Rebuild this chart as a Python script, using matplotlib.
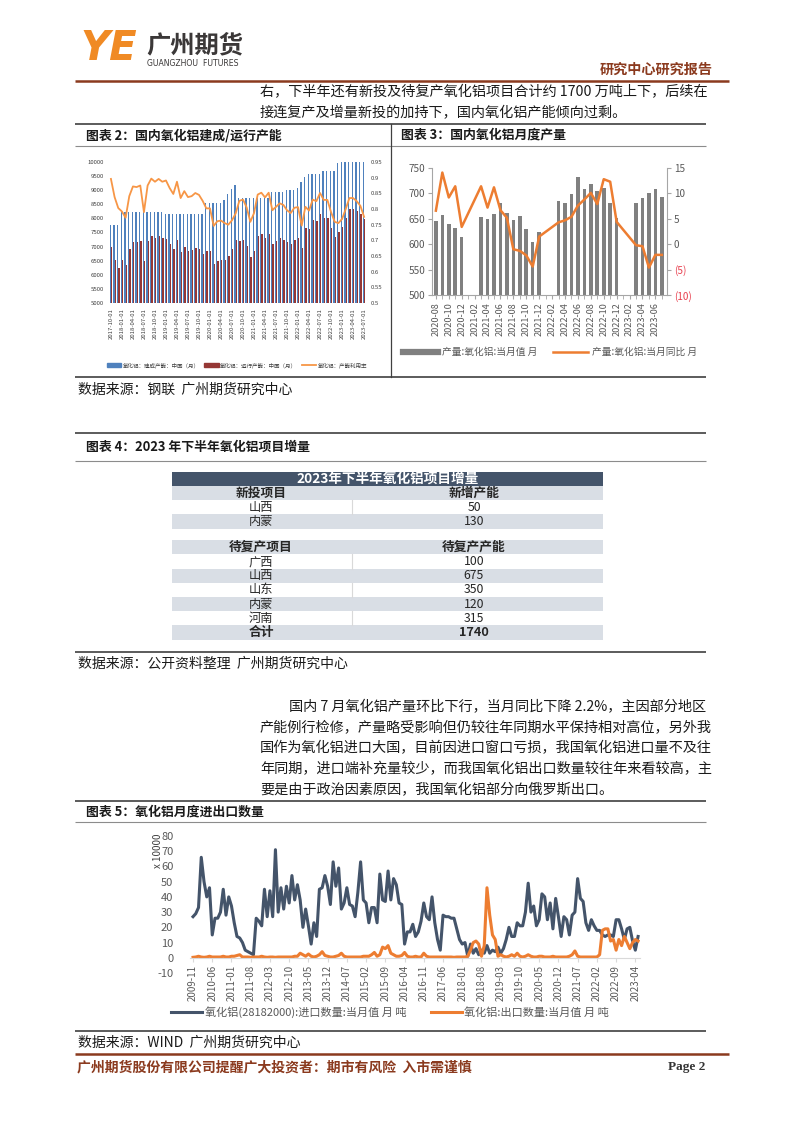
import numpy as np
import pandas as pd
import matplotlib
matplotlib.use("Agg")
import matplotlib.pyplot as plt
from matplotlib.patches import Rectangle, Patch
from matplotlib.lines import Line2D
from matplotlib.ticker import FuncFormatter

plt.rcParams['font.family'] = ['Noto Sans CJK SC', 'DejaVu Sans']
plt.rcParams['axes.unicode_minus'] = False

W, H = 802, 1133

# chart 2: built / running capacity (monthly from 2017-10), utilisation rate
cap_start = "2017-10-01"
built_cap = [7780, 7780, 7780] + [8230] * 12 + [8170] * 11 + [8540] * 5 + \
            [8650, 8870, 9060, 9200] + [8720] * 9 + [8920] * 4 + [9020] * 3 + \
            [9080, 9300, 9480] + [9580] * 4 + [9680] * 4 + [9960] + [10000] * 7
run_cap = [6970, 6520, 6250, 6520, 6350, 6920, 7180, 7160, 7200, 6500,
           7200, 7380, 7300, 7370, 7300, 7280, 7080, 6930, 7250, 6820,
           7000, 6850, 6870, 6950, 6900, 6750, 6850, 6850, 6370, 6500,
           6520, 6530, 6650, 6920, 7230, 7200, 7240, 7020, 6620, 6860,
           7380, 7430, 7300, 7430, 7100, 7200, 7300, 7250, 7180, 7100,
           7250, 7320, 6950, 7650, 7620, 7950, 7900, 8150, 8020, 8020,
           7650, 7350, 7520, 7680, 8000, 8350, 8350, 8250, 8170, 7970]
util_rate = [0.896, 0.838, 0.803, 0.792, 0.772, 0.841, 0.872, 0.870, 0.875, 0.790,
             0.875, 0.897, 0.887, 0.896, 0.887, 0.891, 0.867, 0.848, 0.887, 0.835,
             0.857, 0.838, 0.841, 0.851, 0.845, 0.826, 0.802, 0.802, 0.746, 0.761,
             0.763, 0.755, 0.750, 0.764, 0.786, 0.826, 0.830, 0.805, 0.759, 0.787,
             0.846, 0.852, 0.837, 0.852, 0.796, 0.807, 0.818, 0.813, 0.796, 0.787,
             0.804, 0.806, 0.747, 0.807, 0.795, 0.830, 0.825, 0.851, 0.829, 0.829,
             0.790, 0.759, 0.755, 0.768, 0.800, 0.835, 0.835, 0.825, 0.810, 0.775]

# chart 3: monthly alumina output (万吨) and yoy (%)
prod_start = "2020-08-01"
nan = np.nan
prod_value = [646, 657, 639, 631, 614, nan, nan, 654, 649, 660,
              681, 662, 647, 655, 630, 605, 625, nan, nan, 686,
              682, 699, 732, 709, 719, 705, 711, 681, 652, nan,
              nan, 681, 690, 701, 709, 693]
prod_yoy = [6.6, 14.1, 9.2, 11.4, 3.4, nan, nan, 11.4, 7.2, 11.2,
            6.7, 5.2, -1.0, -1.3, -2.2, -4.4, 1.5, nan, nan, 4.3,
            4.7, 5.4, 7.6, 8.8, 10.1, 7.9, 12.8, 12.3, 4.4, nan,
            nan, -0.2, -0.4, -4.6, -2.1, -2.1]

# chart 4: table of H2 2023 projects (万吨)
new_regions = ["山西", "内蒙"]
new_cap = [50, 130]
resume_regions = ["广西", "山西", "山东", "内蒙", "河南"]
resume_cap = [100, 675, 350, 120, 315]
total_cap = 1740

# chart 5: monthly import / export (万吨) from 2009-11
trade_start = "2009-11-01"
import_qty = [27, 29, 33, 66, 50, 40, 46, 15, 26, 26,
              30, 45, 28, 40, 34, 23, 14, 13, 10, 5,
              4, 3, 2, 26, 24, 21, 45, 27, 44, 27,
              71, 30, 46, 32, 47, 36, 54, 38, 48, 38,
              20, 32, 21, 9, 23, 14, 45, 46, 54, 47,
              35, 63, 47, 59, 32, 36, 46, 35, 34, 27,
              43, 63, 38, 36, 23, 33, 33, 23, 55, 38,
              37, 57, 38, 52, 48, 36, 35, 9, 17, 17,
              22, 14, 17, 24, 36, 27, 25, 40, 23, 12,
              5, 28, 27, 27, 26, 26, 19, 12, 9, 10,
              1, 9, 3, 6, 2, 5, 3, 8, 3, 5,
              4, 7, 3, 6, 12, 20, 14, 14, 23, 21,
              21, 30, 49, 30, 34, 21, 25, 42, 40, 25,
              36, 19, 39, 27, 14, 27, 25, 15, 28, 30,
              52, 39, 37, 23, 18, 25, 21, 18, 18, 15,
              14, 15, 15, 14, 25, 25, 19, 12, 19, 20,
              11, 5, 14]
export_qty = [0.3, 0.5, 1, 0.5, 0.3, 0.5, 1, 0.5, 0.5, 0.5,
              0.5, 1, 0.5, 0.5, 1, 1, 1.5, 2, 0.5, 0.5,
              0.5, 0.3, 0.5, 0.5, 0.5, 1, 0.5, 0.3, 0.5, 0.5,
              0.3, 0.5, 0.5, 0.5, 0.5, 0.5, 0.5, 1, 1, 3,
              2, 1, 2.5, 1, 0.5, 1, 2, 4, 1.5, 1,
              0.5, 0.5, 1, 1.5, 3, 1, 0.5, 0.5, 0.5, 0.5,
              0.5, 0.5, 1, 1, 1, 2, 3.5, 1, 2, 7,
              6, 8, 3, 2, 1, 1, 1.5, 3.5, 1, 0.5,
              0.5, 1, 0.5, 0.5, 3, 1, 0.5, 0.5, 0.5, 0.5,
              0.5, 0.5, 0.5, 0.5, 0.5, 0.3, 0.5, 0.5, 0.5, 0.5,
              1, 5, 10, 11, 9, 1, 8, 46, 28, 15,
              12, 1, 2, 1, 0.5, 1, 2, 1, 3, 1,
              0.5, 1, 2, 1, 0.5, 0.5, 1, 1, 0.5, 0.5,
              0.5, 1, 0.5, 0.5, 0.5, 0.5, 0.5, 1, 2, 4.5,
              1, 0.5, 0.5, 0.5, 0.5, 0.5, 0.5, 0.5, 2, 18,
              19, 19, 11, 12, 5, 12, 8, 14, 10, 6,
              10, 12, 11]

para1 = ["右，下半年还有新投及待复产氧化铝项目合计约 1700 万吨上下，后续在",
         "接连复产及增量新投的加持下，国内氧化铝产能倾向过剩。"]
para2 = ["国内 7 月氧化铝产量环比下行，当月同比下降 2.2%，主因部分地区",
         "产能例行检修，产量略受影响但仍较往年同期水平保持相对高位，另外我",
         "国作为氧化铝进口大国，目前因进口窗口亏损，我国氧化铝进口量不及往",
         "年同期，进口端补充量较少，而我国氧化铝出口数量较往年来看较高，主",
         "要是由于政治因素原因，我国氧化铝部分向俄罗斯出口。"]

BROWN = "#8B3A1E"
TXT = "#1A1A1A"


def rect(x0, y0, x1, y1):
    # pixel box (origin top-left) -> figure fraction
    return [x0 / W, 1 - y1 / H, (x1 - x0) / W, (y1 - y0) / H]


fig = plt.figure(figsize=(W / 100, H / 100), dpi=100)
page = fig.add_axes([0, 0, 1, 1], zorder=0)
page.set_xlim(0, W)
page.set_ylim(H, 0)
page.axis("off")


def hline(y, x0=75, x1=706, color="#404040", lw=1.0):
    page.plot([x0, x1], [y, y], color=color, lw=lw, solid_capstyle="butt")


# header
page.text(80, 49, "YE", fontsize=29, fontweight="bold", style="italic",
          color="#F08A24", family="DejaVu Sans", va="center", ha="left")
page.text(146, 45, "广州期货", fontsize=17.5, fontweight="bold", color="#3B3838",
          va="center", ha="left")
page.text(147, 63, "GUANGZHOU  FUTURES", fontsize=5.6, color="#3B3838",
          va="center", ha="left", family="DejaVu Sans")
page.text(713, 70, "研究中心研究报告", fontsize=10.2, color=BROWN, fontweight="bold",
          va="center", ha="right")
hline(80.5, 75, 729, color=BROWN, lw=1.8)
for k, line in enumerate(para1):
    page.text(260, 92 + 21 * k, line, fontsize=10.2, color=TXT, va="center")

# chart 2/3 frame
hline(124, lw=1.2)
hline(146, color="#8C8C8C", lw=0.8)
hline(377, lw=1.2)
page.plot([391, 391], [124, 377], color="#404040", lw=0.9)
page.text(86, 135, "图表 2：国内氧化铝建成/运行产能", fontsize=9.3, fontweight="bold",
          color=TXT, va="center")
page.text(401, 135, "图表 3：国内氧化铝月度产量", fontsize=9.3, fontweight="bold",
          color=TXT, va="center")
page.text(78, 390, "数据来源：钢联  广州期货研究中心", fontsize=10, color=TXT, va="center")

# chart 2
ax2 = fig.add_axes(rect(108, 162, 367, 303), zorder=2)
ax2.patch.set_alpha(0)
x2 = np.arange(len(built_cap))
months2 = pd.date_range(cap_start, periods=len(built_cap), freq="MS")
ax2.bar(x2 - 0.19, built_cap, width=0.36, color="#4F81BD", linewidth=0)
ax2.bar(x2 + 0.19, run_cap, width=0.40, color="#953735", linewidth=0)
ax2.set_xlim(-0.8, len(x2) - 0.2)
ax2.set_ylim(5000, 10000)
ax2.set_yticks(range(5000, 10001, 500))
ax2.set_xticks(x2[::3])
ax2.set_xticklabels([d.strftime("%Y-%m-%d") for d in months2[::3]], rotation=90,
                    fontsize=4.3, color="#404040")
ax2.tick_params(axis="x", length=0, pad=4)
ax2.tick_params(axis="y", length=0, pad=3, labelsize=4.3, labelcolor="#404040")
ax2r = ax2.twinx()
ax2r.plot(x2, util_rate, color="#F79646", lw=1.3)
ax2r.set_ylim(0.5, 0.95)
ax2r.set_yticks(np.arange(0.5, 0.951, 0.05))
ax2r.yaxis.set_major_formatter(FuncFormatter(lambda v, p: f"{round(v, 2):g}"))
ax2r.tick_params(axis="y", length=0, pad=3, labelsize=4.3, labelcolor="#404040")
for a in (ax2, ax2r):
    for s in a.spines.values():
        s.set_visible(False)
h2 = [Patch(color="#4F81BD"), Patch(color="#953735"),
      Line2D([], [], color="#F79646", lw=1.3)]
l2 = ["氧化铝：建成产能：中国（月）", "氧化铝：运行产能：中国（月）", "氧化铝：产能利用率"]
fig.legend(h2, l2, loc="center", bbox_to_anchor=(237 / W, 1 - 365 / H), ncol=3,
           frameon=False, fontsize=4, handlelength=2.6, handleheight=0.55,
           columnspacing=0.8, handletextpad=0.3, labelcolor="#404040")

# chart 3
GRID = "#A6A6A6"
ax3 = fig.add_axes(rect(432, 168, 667, 295), zorder=2)
ax3.patch.set_alpha(0)
months3 = pd.date_range(prod_start, periods=len(prod_value), freq="MS")
x3 = np.arange(len(months3))
ax3.bar(x3, np.array(prod_value, float), width=0.55, color="#808080", linewidth=0)
ax3.set_xlim(-0.6, len(x3) - 0.2)
ax3.set_ylim(500, 750)
ax3.set_yticks(range(500, 751, 50))
ax3.set_xticks(x3[::2])
ax3.set_xticks(x3, minor=True)
ax3.set_xticklabels([d.strftime("%Y-%m") for d in months3[::2]], rotation=90,
                    fontsize=6.6, color="#595959")
ax3.tick_params(axis="x", which="both", length=3, color=GRID, pad=2)
ax3.tick_params(axis="y", length=3, color=GRID, labelsize=7.2, labelcolor="#595959", pad=2)
yoy = np.array(prod_yoy, float)
ok = ~np.isnan(yoy)
ax3r = ax3.twinx()
ax3r.plot(x3[ok], yoy[ok], color="#ED7D31", lw=1.8)
ax3r.set_ylim(-10, 15)
ax3r.set_yticks(range(-10, 16, 5))
ax3r.yaxis.set_major_formatter(FuncFormatter(
    lambda v, p: f"({abs(v):g})" if v < 0 else f"{v:g}"))
ax3r.tick_params(axis="y", length=3, color=GRID, labelsize=7.2, labelcolor="#595959", pad=2)
for t, v in zip(ax3r.get_yticklabels(), range(-10, 16, 5)):
    if v < 0:
        t.set_color("#E8404F")
for s in ("top", "right"):
    ax3.spines[s].set_visible(False)
for s in ("left", "bottom"):
    ax3.spines[s].set_color(GRID)
    ax3.spines[s].set_linewidth(0.8)
for s in ("top", "left", "bottom"):
    ax3r.spines[s].set_visible(False)
ax3r.spines["right"].set_color(GRID)
ax3r.spines["right"].set_linewidth(0.8)
h3 = [Line2D([], [], color="#808080", lw=4.5), Line2D([], [], color="#ED7D31", lw=1.8)]
l3 = ["产量:氧化铝:当月值 月", "产量:氧化铝:当月同比 月"]
fig.legend(h3, l3, loc="center", bbox_to_anchor=(550 / W, 1 - 352 / H), ncol=2,
           frameon=False, fontsize=7, handlelength=3.6, columnspacing=1.6,
           handletextpad=0.4, labelcolor="#595959")

# chart 4 table
hline(433, lw=1.2)
hline(461, color="#8C8C8C", lw=0.8)
hline(652, lw=1.2)
page.text(86, 447, "图表 4：2023 年下半年氧化铝项目增量", fontsize=9.3,
          fontweight="bold", color=TXT, va="center")
TX0, TX1, TDIV = 172, 603, 352
LC, RC = 261, 474
ROW_BG = "#D9DEE5"
rows = [("2023年下半年氧化铝项目增量", None, "title", 14.2),
        ("新投项目", "新增产能", "head", 14.2)]
rows += [(r, str(v), "cell", 14.2) for r, v in zip(new_regions, new_cap)]
rows += [("", "", "blank", 11.7), ("待复产项目", "待复产产能", "head", 14.2)]
rows += [(r, str(v), "cell", 14.2) for r, v in zip(resume_regions, resume_cap)]
rows += [("合计", str(total_cap), "head", 14.2)]
y = 471.7
shade = True
for left, right, kind, rh in rows:
    if kind == "title":
        page.add_patch(Rectangle((TX0, y), TX1 - TX0, rh, color="#44546A", lw=0))
        page.text((TX0 + TX1) / 2, y + rh / 2, left, color="white", fontsize=9.8,
                  fontweight="bold", ha="center", va="center")
    elif kind == "blank":
        shade = True
    else:
        if shade:
            page.add_patch(Rectangle((TX0, y), TX1 - TX0, rh, color=ROW_BG, lw=0))
        else:
            page.plot([TDIV, TDIV], [y, y + rh], color="#D9D9D9", lw=0.8)
        fw = "bold" if kind == "head" else "normal"
        fs = 9.2 if kind == "head" else 8.8
        page.text(LC, y + rh / 2, left, fontsize=fs, fontweight=fw, color="#262626",
                  ha="center", va="center")
        page.text(RC, y + rh / 2, right, fontsize=fs, fontweight=fw, color="#262626",
                  ha="center", va="center")
        shade = not shade
    y += rh
page.text(78, 664, "数据来源：公开资料整理  广州期货研究中心", fontsize=10, color=TXT,
          va="center")

# paragraph 2
for k, line in enumerate(para2):
    page.text(289 if k == 0 else 260, 707 + 20.8 * k, line, fontsize=10.2, color=TXT,
              va="center")

# chart 5
hline(801, lw=1.2)
hline(822, color="#8C8C8C", lw=0.8)
hline(1031, lw=1.2)
page.text(86, 811.5, "图表 5：氧化铝月度进出口数量", fontsize=9.3, fontweight="bold",
          color=TXT, va="center")
ax5 = fig.add_axes(rect(190, 836, 640, 973), zorder=2)
ax5.patch.set_alpha(0)
for s in ("left", "top", "right"):
    ax5.spines[s].set_visible(False)
ax5.spines["bottom"].set_position(("data", 0))
ax5.spines["bottom"].set_color("#D9D9D9")
x5 = np.arange(len(import_qty))
months5 = pd.date_range(trade_start, periods=len(import_qty), freq="MS")
ax5.plot(x5, import_qty, color="#44546A", lw=2.2)
ax5.plot(x5, export_qty, color="#ED7D31", lw=2.2)
ax5.set_xlim(-1.1, 162.7)
ax5.set_ylim(-10, 80)
ax5.set_yticks(range(-10, 81, 10))
ax5.set_xticks(x5[::7])
ax5.set_xticklabels([d.strftime("%Y-%m") for d in months5[::7]], rotation=90,
                    fontsize=7, color="#595959")
ax5.tick_params(axis="x", length=3, color="#D9D9D9", pad=2)
ax5.tick_params(axis="y", length=0, pad=12, labelsize=8, labelcolor="#595959")
page.text(158, 851, "x 10000", rotation=90, fontsize=7, color="#404040",
          ha="center", va="center")
h5 = [Line2D([], [], color="#44546A", lw=2.2), Line2D([], [], color="#ED7D31", lw=2.2)]
l5 = ["氧化铝(28182000):进口数量:当月值 月 吨", "氧化铝:出口数量:当月值 月 吨"]
fig.legend(h5, l5, loc="center", bbox_to_anchor=(390 / W, 1 - 1012 / H), ncol=2,
           frameon=False, fontsize=8, handlelength=2.8, columnspacing=2.2,
           handletextpad=0.2, labelcolor="#595959")
page.text(78, 1043, "数据来源：WIND  广州期货研究中心", fontsize=10, color=TXT, va="center")

# footer
hline(1054, 75, 729, color=BROWN, lw=1.8)
page.text(77, 1067, "广州期货股份有限公司提醒广大投资者：期市有风险  入市需谨慎",
          fontsize=10, fontweight="bold", color=BROWN, va="center")
page.text(705, 1067, "Page 2", fontsize=9.5, fontweight="bold", color="#333333",
          family="Liberation Serif", ha="right", va="center")

fig.savefig("out.png", dpi=100)
